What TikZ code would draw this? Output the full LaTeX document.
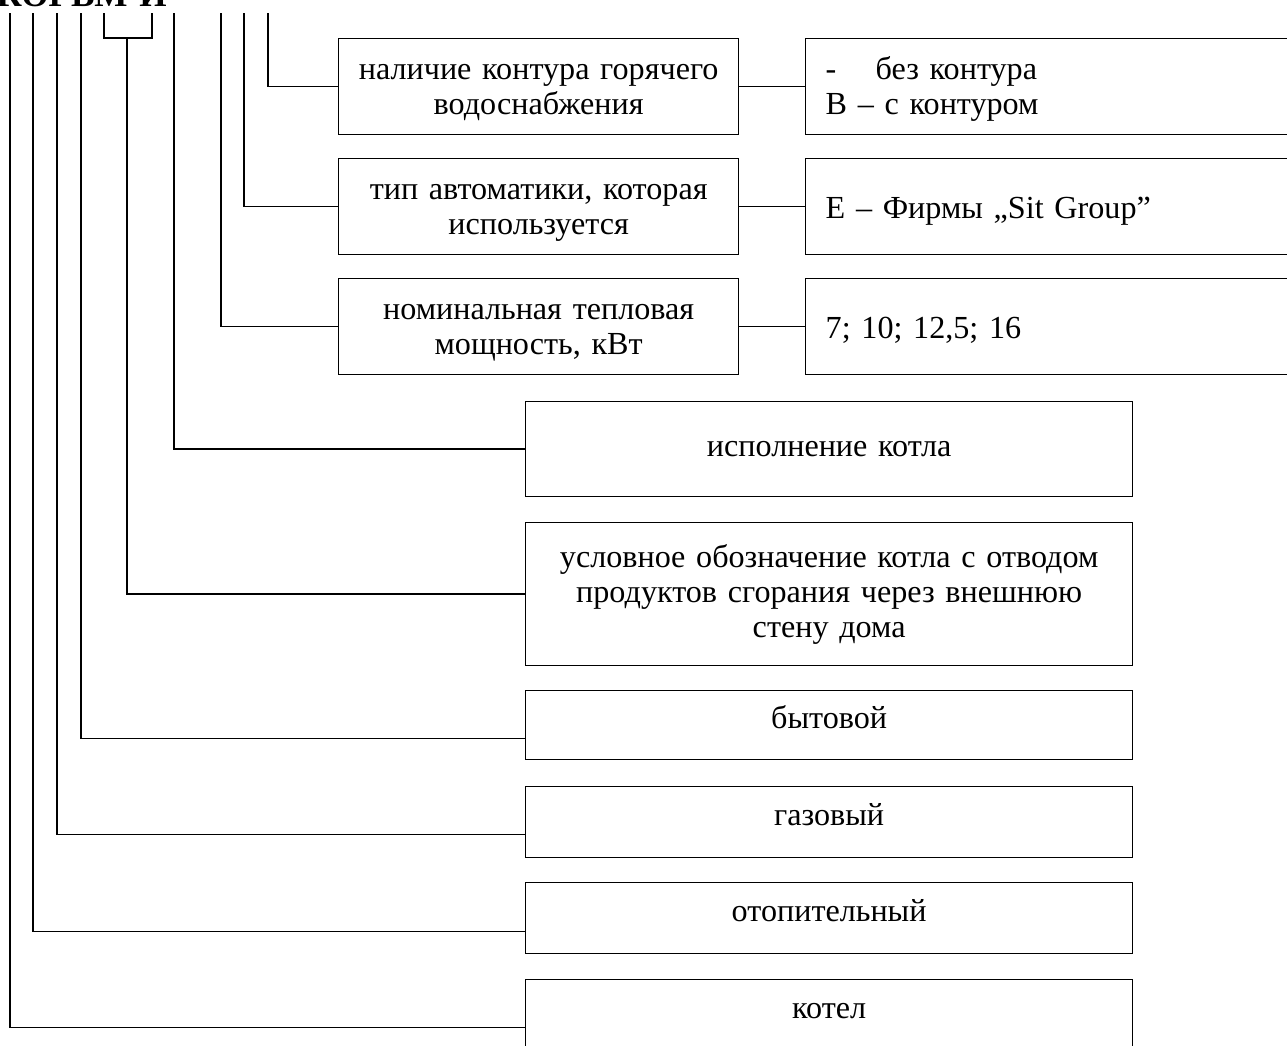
\documentclass[tikz,border=0pt]{standalone}
\usepackage{fontspec}
\setmainfont{Liberation Serif}
\begin{document}
\begin{tikzpicture}[x=0.02cm,y=-0.02cm,line width=0.8pt,
  font=\fontsize{18.3}{19.9}\selectfont,
  midbox/.style={draw,anchor=north west,minimum width=8cm,minimum height=1.92cm,text width=7.8cm,align=center,inner sep=0pt,text height=0.52cm,text depth=0.8cm},
  valbox/.style={draw,anchor=north west,minimum height=1.92cm,text width=10cm,inner xsep=0.4cm,align=left,text height=0.56cm,text depth=0.1cm},
  lowbox/.style={draw,anchor=north west,minimum width=12.14cm,text width=11.8cm,align=center,inner sep=0pt},
  smallbox/.style={lowbox,minimum height=1.42cm,text height=0.4cm,text depth=0.27cm}]
\useasboundingbox (0,0) rectangle (1287,1045);
\clip (0,0) rectangle (1287,1045);

% title, cut at the top
\node[anchor=base west,inner sep=0pt,font=\fontsize{20}{24}\selectfont\bfseries] (title) at (-4,6) {КОГВМ-И};

% upper boxes
\node[midbox] (kontur) at (338,38) {наличие контура горячего\\водоснабжения};
\node[midbox] (avtom) at (338,158) {тип автоматики, которая\\используется};
\node[midbox] (moshch) at (338,278) {номинальная тепловая\\мощность, кВт};
\node[valbox,text height=0.52cm,text depth=0.8cm] (vkontur) at (805,38) {\makebox[1cm][l]{-}без контура\\В – с контуром};
\node[valbox] (vavtom) at (805,158) {Е – Фирмы ,,Sit Group''};
\node[valbox] (vmoshch) at (805,278) {7; 10; 12,5; 16};

% lower boxes
\node[lowbox,minimum height=1.9cm] (ispoln) at (525,401) {исполнение котла};
\node[lowbox,minimum height=2.86cm] (uslov) at (525,522) {условное обозначение котла с отводом\\продуктов сгорания через внешнюю\\стену дома};
\node[smallbox,minimum height=1.38cm] (byt) at (525,690) {бытовой};
\node[smallbox] (gaz) at (525,786) {газовый};
\node[smallbox] (otop) at (525,882) {отопительный};
\node[smallbox] (kotel) at (525,979) {котел};

% tops of the lines under the title
\coordinate (t1) at (10,13);
\coordinate (t2) at (33,13);
\coordinate (t3) at (57,13);
\coordinate (t4) at (81,13);
\coordinate (b1) at (104,13);
\coordinate (b2) at (152,13);
\coordinate (t6) at (174,13);
\coordinate (t7) at (221,13);
\coordinate (t8) at (244,13);
\coordinate (t9) at (268,13);

\draw (t1) |- ([yshift=-0.25cm]kotel.west);
\draw (t2) |- ([yshift=-0.26cm]otop.west);
\draw (t3) |- ([yshift=-0.24cm]gaz.west);
\draw (t4) |- ([yshift=-0.27cm]byt.west);
\draw (b1) |- (b2 |- 0,38) coordinate (bj) -- (b2);
\draw (127,38) |- (uslov.west);
\draw (t6) |- (ispoln.west);
\draw (t7) |- (moshch.west);
\draw (t8) |- (avtom.west);
\draw (t9) |- (kontur.west);

\draw (kontur) -- (vkontur);
\draw (avtom) -- (vavtom);
\draw (moshch) -- (vmoshch);
\end{tikzpicture}
\end{document}
